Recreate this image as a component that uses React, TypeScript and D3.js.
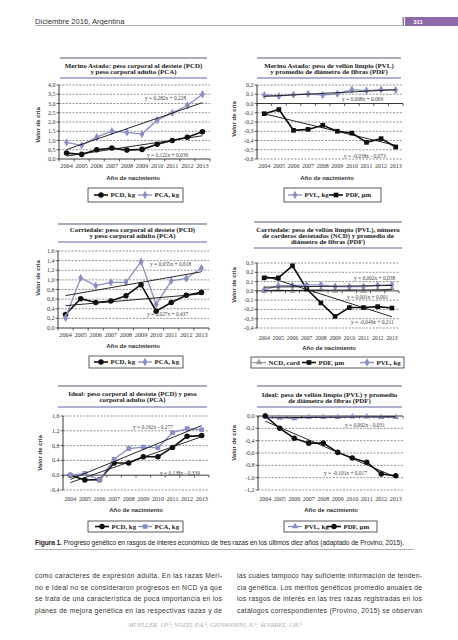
import React from "react";
import * as d3 from "d3";

// ---------- DATA ----------
const years = ["2004", "2005", "2006", "2007", "2008", "2009", "2010", "2011", "2012", "2013"];

// Merino Astado
const merinoPCD = [0.32, 0.25, 0.5, 0.59, 0.48, 0.52, 0.8, 1.0, 1.18, 1.47];
const merinoPCA = [0.9, 0.74, 1.18, 1.5, 1.44, 1.35, 2.1, 2.49, 2.89, 3.5];
const merinoPVL = [0.089, 0.08, 0.095, 0.105, 0.09, 0.105, 0.15, 0.14, 0.15, 0.145];
const merinoPDF = [-0.11, -0.065, -0.29, -0.28, -0.235, -0.3, -0.32, -0.42, -0.38, -0.47];

// Corriedale
const corrPCD = [0.28, 0.61, 0.53, 0.56, 0.67, 0.9, 0.35, 0.53, 0.68, 0.74];
const corrPCA = [0.21, 1.04, 0.88, 0.95, 0.95, 1.38, 0.49, 0.98, 1.03, 1.245];
const corrNCD = [0.0, 0.01, 0.0, 0.01, 0.01, 0.0, 0.01, 0.0, 0.01, 0.02];
const corrPDF = [0.14, 0.14, 0.27, 0.02, -0.13, -0.275, -0.18, -0.18, -0.17, -0.185];
const corrPVL = [0.01, 0.055, 0.055, 0.065, 0.065, 0.045, 0.045, 0.045, 0.06, 0.065];

// Ideal
const idealPCD = [0.0, -0.13, -0.12, 0.33, 0.33, 0.5, 0.5, 0.75, 1.05, 1.07];
const idealPCA = [0.0, 0.05, -0.13, 0.43, 0.72, 0.76, 0.74, 1.15, 1.26, 1.23];
const idealPVL = [0.0, -0.03, -0.04, -0.02, -0.02, -0.02, -0.01, -0.01, -0.02, -0.02];
const idealPDF = [0.0, -0.2, -0.36, -0.44, -0.44, -0.59, -0.68, -0.75, -0.94, -0.97];

// Trend equations (slope, intercept) as printed on the charts
const trendMerinoPCA = [0.282, 0.228];
const trendMerinoPCD = [0.122, 0.036];
const trendMerinoPVL = [0.008, 0.069];
const trendMerinoPDF = [-0.038, -0.073];
const trendCorrPCA = [0.055, 0.618];
const trendCorrPCD = [0.027, 0.437];
const trendCorrPVL = [0.002, 0.038];
const trendCorrNCD = [0.001, 0.001];
const trendCorrPDF = [-0.049, 0.211];
const trendIdealPCA = [0.162, -0.277];
const trendIdealPCD = [0.138, -0.339];
const trendIdealPVL = [0.002, -0.031];
const trendIdealPDF = [-0.101, 0.017];

// ---------- STYLE ----------
const BLACK = "#111";
const PURPLE = "#8b8ec4";
const GRAY = "#9a9a9a";
const SERIF = "'Liberation Serif', 'DejaVu Serif', serif";
const SANS = "'Liberation Sans', Arial, sans-serif";

const fmt = d3
  .formatLocale({ decimal: ",", thousands: ".", grouping: [3], currency: ["", ""], minus: "-" })
  .format(".1f");

type Series = { name: string; values: number[]; color: string; marker: string; width: number };
type Trend = { coef: number[]; label: string; lx: number; ly: number };
type Panel = {
  title: string[];
  titleTop: number;
  titleBottom: number;
  titleBase: number;
  tx1: number;
  tx2: number;
  x0: number;
  x1: number;
  yTop: number;
  yBottom: number;
  domain: [number, number];
  step: number;
  xLabelY: number;
  xLabelSize: number;
  xTitle: [number, number];
  yTitle: [number, number];
  series: Series[];
  trends: Trend[];
  legend: { x: number; y: number; w: number; h: number; items: { s: number; x: number }[] };
};

const S = (name: string, values: number[], color: string, marker: string, width = 1.4): Series => ({
  name,
  values,
  color,
  marker,
  width,
});

const panels: Panel[] = [
  {
    title: ["Merino Astado: peso corporal al destete (PCD)", "y peso corporal adulto (PCA)"],
    titleTop: 58, titleBottom: 78, titleBase: 68.3, tx1: 60, tx2: 207,
    x0: 59, x1: 210, yTop: 85, yBottom: 159, domain: [0, 4], step: 0.5,
    xLabelY: 168.2, xLabelSize: 6.2, xTitle: [133, 179.5], yTitle: [40, 125],
    series: [S("PCD, kg", merinoPCD, BLACK, "circle", 1.6), S("PCA, kg", merinoPCA, PURPLE, "diamond", 1.3)],
    trends: [
      { coef: trendMerinoPCA, label: "y = 0,282x + 0,228", lx: 145, ly: 100 },
      { coef: trendMerinoPCD, label: "y = 0,122x + 0,036", lx: 147, ly: 157 },
    ],
    legend: { x: 88, y: 188, w: 95, h: 14, items: [{ s: 0, x: 94 }, { s: 1, x: 138 }] },
  },
  {
    title: ["Merino Astado: peso de vellón limpio (PVL)", "y promedio de diámetro de fibras (PDF)"],
    titleTop: 58, titleBottom: 78, titleBase: 68.3, tx1: 257, tx2: 401,
    x0: 257, x1: 403, yTop: 85, yBottom: 159, domain: [-0.6, 0.2], step: 0.1,
    xLabelY: 168.2, xLabelSize: 6.0, xTitle: [327, 180], yTitle: [236, 119],
    series: [S("PVL, kg", merinoPVL, PURPLE, "diamond", 1.3), S("PDF, µm", merinoPDF, BLACK, "square", 1.6)],
    trends: [
      { coef: trendMerinoPVL, label: "y = 0,008x + 0,069", lx: 342, ly: 101 },
      { coef: trendMerinoPDF, label: "y = -0,038x - 0,073", lx: 344, ly: 158 },
    ],
    legend: { x: 284, y: 188, w: 97, h: 14, items: [{ s: 0, x: 288 }, { s: 1, x: 329 }] },
  },
  {
    title: ["Corriedale: peso corporal al destete (PCD)", "y peso corporal adulto (PCA)"],
    titleTop: 224, titleBottom: 242, titleBase: 232.3, tx1: 58, tx2: 207,
    x0: 58, x1: 209, yTop: 251, yBottom: 328, domain: [0, 1.6], step: 0.2,
    xLabelY: 336.5, xLabelSize: 6.2, xTitle: [133, 347.5], yTitle: [40, 278],
    series: [S("PCD, kg", corrPCD, BLACK, "circle", 1.6), S("PCA, kg", corrPCA, PURPLE, "diamond", 1.3)],
    trends: [
      { coef: trendCorrPCA, label: "y = 0,055x + 0,618", lx: 150, ly: 266 },
      { coef: trendCorrPCD, label: "y = 0,027x + 0,437", lx: 147, ly: 316 },
    ],
    legend: { x: 89, y: 356, w: 94, h: 12, items: [{ s: 0, x: 94 }, { s: 1, x: 138 }] },
  },
  {
    title: [
      "Corriedale: peso de vellón limpio (PVL), número",
      "de corderos destetados (NCD) y promedio de",
      "diámetro de fibras (PDF)",
    ],
    titleTop: 222, titleBottom: 248, titleBase: 232.3, tx1: 254, tx2: 402,
    x0: 257, x1: 399, yTop: 263, yBottom: 328, domain: [-0.4, 0.3], step: 0.1,
    xLabelY: 339.5, xLabelSize: 5.7, xTitle: [329, 349.5], yTitle: [236, 285],
    series: [
      S("NCD, cord", corrNCD, GRAY, "triangle", 1.2),
      S("PDF, µm", corrPDF, BLACK, "square", 1.6),
      S("PVL, kg", corrPVL, PURPLE, "diamond", 1.3),
    ],
    trends: [
      { coef: trendCorrPVL, label: "y = 0,002x + 0,038", lx: 354, ly: 280 },
      { coef: trendCorrNCD, label: "y = 0,001x + 0,001", lx: 347, ly: 299 },
      { coef: trendCorrPDF, label: "y = -0,049x + 0,211", lx: 351, ly: 324 },
    ],
    legend: { x: 251, y: 357, w: 153, h: 11, items: [{ s: 0, x: 252 }, { s: 1, x: 302 }, { s: 2, x: 360 }] },
  },
  {
    title: ["Ideal: peso corporal al destete (PCD) y peso", "corporal adulto (PCA)"],
    titleTop: 386, titleBottom: 407, titleBase: 395.8, tx1: 58, tx2: 207,
    x0: 63, x1: 209, yTop: 416, yBottom: 490, domain: [-0.4, 1.6], step: 0.4,
    xLabelY: 501, xLabelSize: 6.0, xTitle: [136, 511.5], yTitle: [42, 453],
    series: [S("PCD, kg", idealPCD, BLACK, "circle", 1.6), S("PCA, kg", idealPCA, PURPLE, "square", 1.3)],
    trends: [
      { coef: trendIdealPCA, label: "y = 0,162x - 0,277", lx: 133, ly: 429 },
      { coef: trendIdealPCD, label: "y = 0,138x - 0,339", lx: 160, ly: 475 },
    ],
    legend: { x: 88, y: 521, w: 95, h: 11, items: [{ s: 0, x: 95 }, { s: 1, x: 138 }] },
  },
  {
    title: ["Ideal: peso de vellón limpio (PVL) y promedio", "de diámetro de fibras (PDF)"],
    titleTop: 386, titleBottom: 407, titleBase: 396.5, tx1: 257, tx2: 402,
    x0: 258, x1: 403, yTop: 416, yBottom: 490, domain: [-1.2, 0], step: 0.2,
    xLabelY: 501, xLabelSize: 6.0, xTitle: [331, 511.5], yTitle: [236, 443],
    series: [S("PVL, kg", idealPVL, PURPLE, "triangle", 1.3), S("PDF, µm", idealPDF, BLACK, "circle", 1.6)],
    trends: [
      { coef: trendIdealPVL, label: "y = 0,002x - 0,031", lx: 345, ly: 427 },
      { coef: trendIdealPDF, label: "y = -0,101x + 0,017", lx: 324, ly: 475 },
    ],
    legend: { x: 284, y: 521, w: 93, h: 11, items: [{ s: 0, x: 288 }, { s: 1, x: 327 }] },
  },
];

const leftCol = [
  "como caracteres de expresión adulta. En las razas Meri-",
  "no e Ideal no se consideraron progresos en NCD ya que",
  "se trata de una característica de poca importancia en los",
  "planes de mejora genética en las respectivas razas y de",
];
const rightCol = [
  "las cuales tampoco hay suficiente información de tenden-",
  "cia genética. Los méritos genéticos promedio anuales de",
  "los rasgos de interés en las tres razas registradas en los",
  "catálogos correspondientes (Provino, 2015) se observan",
];

// ---------- DRAWING ----------
const symbolFor: Record<string, d3.SymbolType> = {
  circle: d3.symbolCircle,
  square: d3.symbolSquare,
  diamond: d3.symbolDiamond,
  triangle: d3.symbolTriangle,
};
const sizeFor: Record<string, number> = { circle: 24, square: 22, diamond: 20, triangle: 18 };

function Marker({ type, x, y, color }: { type: string; x: number; y: number; color: string }) {
  const d = d3.symbol().type(symbolFor[type]).size(sizeFor[type])() || "";
  return <path d={d} transform={`translate(${x},${y})`} fill={color} />;
}

function ChartPanel({ p }: { p: Panel }) {
  const x = d3.scalePoint<string>().domain(years).range([p.x0, p.x1]).padding(0.5);
  const y = d3.scaleLinear().domain(p.domain).range([p.yBottom, p.yTop]);
  const nT = Math.round((p.domain[1] - p.domain[0]) / p.step);
  const ticks = d3.range(nT + 1).map((i) => +(p.domain[0] + i * p.step).toFixed(3));
  const stepPx = x.step();
  const y0 = y(0);
  const line = d3
    .line<number>()
    .x((_, i) => x(years[i]) as number)
    .y((v) => y(v));

  return (
    <g>
      {/* title block */}
      <line x1={p.tx1} x2={p.tx2} y1={p.titleTop} y2={p.titleTop} stroke="#8e92a6" strokeWidth={1.3} />
      <line x1={p.tx1} x2={p.tx2} y1={p.titleBottom} y2={p.titleBottom} stroke="#9497c6" strokeWidth={1.5} />
      {p.title.map((t, i) => (
        <text
          key={i}
          x={(p.tx1 + p.tx2) / 2}
          y={p.titleBase + i * 6}
          textAnchor="middle"
          fontFamily={SERIF}
          fontWeight="bold"
          fontSize={6.9}
          fill="#222"
        >
          {t}
        </text>
      ))}

      {/* gridlines */}
      {ticks
        .filter((t) => Math.abs(t) > 1e-9)
        .map((t) => (
          <line
            key={"g" + t}
            x1={p.x0}
            x2={p.x1}
            y1={y(t)}
            y2={y(t)}
            stroke="#444"
            strokeWidth={0.6}
            strokeDasharray="2,1.4"
          />
        ))}
      {/* y axis */}
      <line x1={p.x0} x2={p.x0} y1={p.yTop} y2={p.yBottom} stroke="#222" strokeWidth={0.9} />
      {ticks.map((t) => (
        <g key={"t" + t}>
          <line x1={p.x0 - 2.5} x2={p.x0} y1={y(t)} y2={y(t)} stroke="#222" strokeWidth={0.7} />
          <text x={p.x0 - 3.5} y={y(t) + 2} textAnchor="end" fontFamily={SERIF} fontSize={6} fill="#333">
            {fmt(t)}
          </text>
        </g>
      ))}
      {/* zero axis with category ticks */}
      <line x1={p.x0} x2={p.x1} y1={y0} y2={y0} stroke="#222" strokeWidth={0.9} />
      {d3.range(years.length + 1).map((i) => (
        <line
          key={"xt" + i}
          x1={p.x0 + i * stepPx}
          x2={p.x0 + i * stepPx}
          y1={y0}
          y2={y0 + 2.5}
          stroke="#222"
          strokeWidth={0.7}
        />
      ))}
      {/* x labels */}
      {years.map((yr) => (
        <text
          key={yr}
          x={x(yr)}
          y={p.xLabelY}
          textAnchor="middle"
          fontFamily={SERIF}
          fontSize={p.xLabelSize}
          fill="#333"
        >
          {yr}
        </text>
      ))}
      <text
        x={p.xTitle[0]}
        y={p.xTitle[1]}
        textAnchor="middle"
        fontFamily={SANS}
        fontWeight="bold"
        fontSize={6}
        fill="#333"
      >
        Año de nacimiento
      </text>
      <text
        transform={`translate(${p.yTitle[0]},${p.yTitle[1]}) rotate(-90)`}
        textAnchor="middle"
        fontFamily={SANS}
        fontWeight="bold"
        fontSize={6}
        fill="#333"
      >
        Valor de cría
      </text>

      {/* series */}
      {p.series.map((s, si) => (
        <g key={"s" + si}>
          <path d={line(s.values) || ""} fill="none" stroke={s.color} strokeWidth={s.width} />
          {s.values.map((v, i) => (
            <Marker key={i} type={s.marker} x={x(years[i]) as number} y={y(v)} color={s.color} />
          ))}
        </g>
      ))}
      {/* trend lines */}
      {p.trends.map((t, ti) => {
        const [a, b] = t.coef;
        const xa = x(years[0]) as number;
        const xb = x(years[years.length - 1]) as number;
        return (
          <g key={"tr" + ti}>
            <line x1={xa} x2={xb} y1={y(a * 1 + b)} y2={y(a * years.length + b)} stroke="#111" strokeWidth={0.9} />
            <text x={t.lx} y={t.ly} fontFamily={SERIF} fontSize={5.4} fill="#444">
              {t.label}
            </text>
          </g>
        );
      })}

      {/* legend */}
      <rect
        x={p.legend.x}
        y={p.legend.y}
        width={p.legend.w}
        height={p.legend.h}
        fill="#fff"
        stroke="#333"
        strokeWidth={0.8}
      />
      {p.legend.items.map((it, k) => {
        const s = p.series[it.s];
        const cy = p.legend.y + p.legend.h / 2;
        return (
          <g key={"l" + k}>
            <line x1={it.x} x2={it.x + 14} y1={cy} y2={cy} stroke={s.color} strokeWidth={s.width} />
            <Marker type={s.marker} x={it.x + 7} y={cy} color={s.color} />
            <text x={it.x + 16.5} y={cy + 2.4} fontFamily={SERIF} fontWeight="bold" fontSize={6.8} fill="#222">
              {s.name}
            </text>
          </g>
        );
      })}
    </g>
  );
}

export default function App() {
  const bodyY = [578, 589.7, 601.4, 613];
  return (
    <svg
      width={458}
      height={640}
      viewBox="0 0 458 640"
      style={{ position: "absolute", left: 0, top: 0, background: "#fff" }}
    >
      <rect x={0} y={0} width={458} height={640} fill="#fff" />
      {/* page header */}
      <text x={35} y={23.5} fontFamily={SANS} fontSize={7.6} fill="#333">
        Diciembre 2016, Argentina
      </text>
      <line x1={35} x2={403} y1={25.5} y2={25.5} stroke="#9a9a9a" strokeWidth={0.8} />
      <rect x={402.5} y={17} width={1.6} height={9} fill="#888" />
      <rect x={405} y={17} width={53} height={9} fill="#8e68a8" />
      <text x={418} y={24} textAnchor="middle" fontFamily={SANS} fontWeight="bold" fontSize={6} fill="#fff">
        311
      </text>

      {panels.map((p, i) => (
        <ChartPanel key={i} p={p} />
      ))}

      {/* caption */}
      <text x={35} y={544.5} fontFamily={SANS} fontSize={6.7} fill="#222" textLength={369} lengthAdjust="spacing">
        <tspan fontWeight="bold">Figura 1.</tspan>
        <tspan> Progreso genético en rasgos de interés económico de tres razas en los últimos diez años (adaptado de Provino, 2015).</tspan>
      </text>
      <line x1={35} x2={414} y1={549.5} y2={549.5} stroke="#999" strokeWidth={0.8} />

      {/* body text */}
      {leftCol.map((t, i) => (
        <text
          key={"lc" + i}
          x={35}
          y={bodyY[i]}
          fontFamily={SANS}
          fontSize={6.8}
          fill="#333"
          textLength={187}
          lengthAdjust="spacing"
        >
          {t}
        </text>
      ))}
      {rightCol.map((t, i) => (
        <text
          key={"rc" + i}
          x={237}
          y={bodyY[i]}
          fontFamily={SANS}
          fontSize={6.8}
          fill="#333"
          textLength={185}
          lengthAdjust="spacing"
        >
          {t}
        </text>
      ))}
      <text x={215} y={627} textAnchor="middle" fontFamily={SERIF} fontStyle="italic" fontSize={6.3} fill="#aaa">
        MUELLER, J.P.¹; VOZZI, P.A.¹; GIOVANNINI, N.¹; ÁLVAREZ, J.M.¹
      </text>
    </svg>
  );
}
